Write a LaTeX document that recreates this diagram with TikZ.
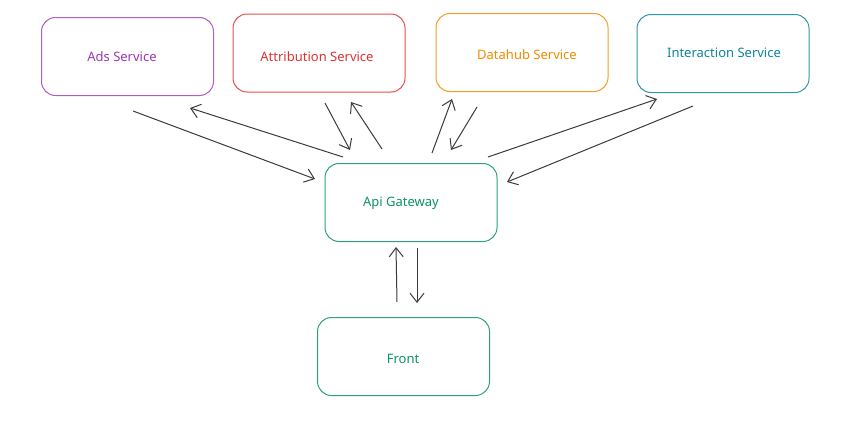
\documentclass[tikz,border=0pt]{standalone}
\usepackage{fontspec}
\setmainfont{Noto Sans}
\usepackage{tikz}
\usetikzlibrary{arrows.meta}
\usetikzlibrary{positioning}
\tikzset{font={\fontsize{13pt}{15}\selectfont}}
\definecolor{adscol}{HTML}{9C36B5}
\definecolor{attrcol}{HTML}{E03131}
\definecolor{datacol}{HTML}{F08C00}
\definecolor{intercol}{HTML}{0C8599}
\definecolor{gwcol}{HTML}{099268}
\definecolor{linecol}{HTML}{3B3B3B}

\begin{document}
\begin{tikzpicture}[x=1pt,y=-1pt,
svcbox/.style={draw=#1,line width=1pt,rounded corners=14pt,minimum width=172pt,minimum height=78pt,inner sep=0pt},
svctext/.style={text=#1,inner sep=0pt},
flow/.style={draw=linecol,line width=1pt,-{Straight Barb[length=9pt,width=14pt,line width=1pt]}}
]
\useasboundingbox (0,0) rectangle (863,431);

%boxes
\node[svcbox=adscol!80] (ads) at (127.5,56.5) {};
\node[svcbox=attrcol!85] (attr) at (319,53) {};
\node[svcbox=datacol!85] (data) at (522,52.5) {};
\node[svcbox=intercol!85] (inter) at (723,53.5) {};
\node[svcbox=gwcol!85] (gw) at (411,202.5) {};
\node[svcbox=gwcol!85] (front) at (403.5,356.5) {};

%labels
\node[svctext=adscol] (adst) at (122,57) {Ads Service};
\node[svctext=attrcol] (attrt) at (317,57) {Attribution Service};
\node[svctext=datacol] (datat) at (527,55) {Datahub Service};
\node[svctext=intercol] (intert) at (724,53) {Interaction Service};
\node[svctext=gwcol] (gwt) at (401,203) {Api Gateway};
\node[svctext=gwcol] (frontt) at (403,359) {Front};

%arrow ends
\coordinate (ads-out) at (133,111);
\coordinate (gw-ads-in) at (315,179);
\coordinate (gw-ads-out) at (343,157);
\coordinate (ads-in) at (190,108);
\coordinate (attr-out) at (325,103);
\coordinate (gw-attr-in) at (350,150);
\coordinate (gw-attr-out) at (382,149);
\coordinate (attr-in) at (351,102);
\coordinate (gw-data-out) at (432,153);
\coordinate (data-in) at (452,99);
\coordinate (data-out) at (477,107);
\coordinate (gw-data-in) at (451,150);
\coordinate (gw-inter-out) at (488,157);
\coordinate (inter-in) at (657,99);
\coordinate (inter-out) at (693,106);
\coordinate (gw-inter-in) at (507,182);
\coordinate (front-out) at (397,302);
\coordinate (gw-front-in) at (396,247);
\coordinate (gw-front-out) at (417,248);
\coordinate (front-in) at (417,303);

\draw[flow] (ads-out) -- (gw-ads-in);
\draw[flow] (gw-ads-out) -- (ads-in);
\draw[flow] (attr-out) -- (gw-attr-in);
\draw[flow] (gw-attr-out) -- (attr-in);
\draw[flow] (gw-data-out) -- (data-in);
\draw[flow] (data-out) -- (gw-data-in);
\draw[flow] (gw-inter-out) -- (inter-in);
\draw[flow] (inter-out) -- (gw-inter-in);
\draw[flow] (front-out) -- (gw-front-in);
\draw[flow] (gw-front-out) -- (front-in);

\end{tikzpicture}
\end{document}
